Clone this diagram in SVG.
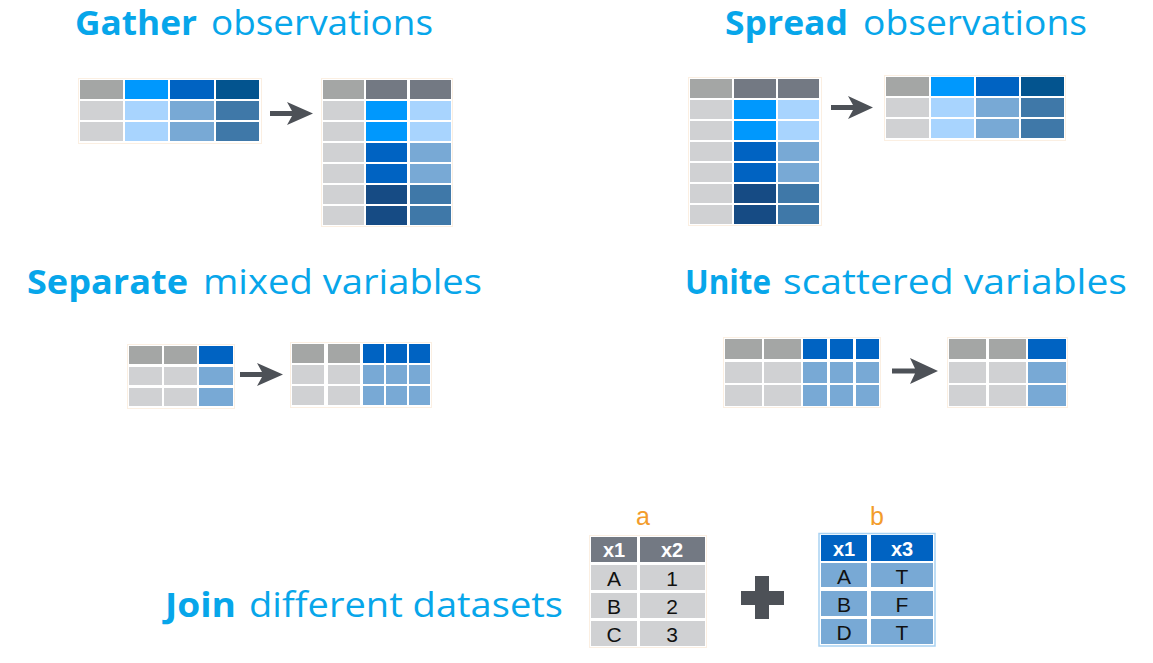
<svg xmlns="http://www.w3.org/2000/svg" width="1153" height="663" viewBox="0 0 1153 663">
<style>
.t{font-family:"Open Sans","DejaVu Sans",sans-serif;font-size:34px;fill:#07a6ea}
.tb{font-weight:bold}
.g1{fill:#a4a6a5}.g2{fill:#737983}.g3{fill:#d0d1d3}
.b1{fill:#0098fd}.b2{fill:#0063c2}.b3{fill:#03548f}.b4{fill:#164b84}
.l1{fill:#a8d4fe}.l2{fill:#78a9d5}.l3{fill:#3f78a8}
.fr{fill:none;stroke:#fbefe2;stroke-width:1}
.arr{fill:#4d5157}
.lab{font-family:"Liberation Sans",Arial,sans-serif;font-size:25px;fill:#f39c2b;text-anchor:middle}
.hd{font-family:"Liberation Sans",Arial,sans-serif;font-size:20px;font-weight:bold;fill:#fff;text-anchor:middle}
.cv{font-family:"Liberation Sans",Arial,sans-serif;font-size:21px;fill:#111;text-anchor:middle}
</style>
<rect width="1153" height="663" fill="#fff"/>

<g id="gather">
<text class="t tb" x="75" y="35" textLength="122" lengthAdjust="spacingAndGlyphs">Gather</text>
<text class="t" x="211" y="35" textLength="222" lengthAdjust="spacingAndGlyphs">observations</text>
<rect class="fr" x="78.5" y="78.5" width="183" height="65"/>
<rect class="g1" x="80" y="80" width="43" height="19"/><rect class="b1" x="125" y="80" width="43" height="19"/><rect class="b2" x="170" y="80" width="44" height="19"/><rect class="b3" x="216" y="80" width="43" height="19"/>
<rect class="g3" x="80" y="101" width="43" height="19"/><rect class="l1" x="125" y="101" width="43" height="19"/><rect class="l2" x="170" y="101" width="44" height="19"/><rect class="l3" x="216" y="101" width="43" height="19"/>
<rect class="g3" x="80" y="122" width="43" height="19"/><rect class="l1" x="125" y="122" width="43" height="19"/><rect class="l2" x="170" y="122" width="44" height="19"/><rect class="l3" x="216" y="122" width="43" height="19"/>
<path class="arr" d="M270,111 L292,111 L287,102 L313,113.5 L287,125 L292,116 L270,116 Z"/>
<rect class="fr" x="321.5" y="78.5" width="131" height="148"/>
<rect class="g1" x="323" y="80" width="41" height="19"/><rect class="g2" x="366" y="80" width="41" height="19"/><rect class="g2" x="410" y="80" width="41" height="19"/>
<rect class="g3" x="323" y="101" width="41" height="19"/><rect class="b1" x="366" y="101" width="41" height="19"/><rect class="l1" x="410" y="101" width="41" height="19"/>
<rect class="g3" x="323" y="122" width="41" height="19"/><rect class="b1" x="366" y="122" width="41" height="19"/><rect class="l1" x="410" y="122" width="41" height="19"/>
<rect class="g3" x="323" y="143" width="41" height="19"/><rect class="b2" x="366" y="143" width="41" height="19"/><rect class="l2" x="410" y="143" width="41" height="19"/>
<rect class="g3" x="323" y="164" width="41" height="19"/><rect class="b2" x="366" y="164" width="41" height="19"/><rect class="l2" x="410" y="164" width="41" height="19"/>
<rect class="g3" x="323" y="185" width="41" height="19"/><rect class="b4" x="366" y="185" width="41" height="19"/><rect class="l3" x="410" y="185" width="41" height="19"/>
<rect class="g3" x="323" y="206" width="41" height="19"/><rect class="b4" x="366" y="206" width="41" height="19"/><rect class="l3" x="410" y="206" width="41" height="19"/>
</g>

<g id="spread">
<text class="t tb" x="725" y="35" textLength="123" lengthAdjust="spacingAndGlyphs">Spread</text>
<text class="t" x="863" y="35" textLength="224" lengthAdjust="spacingAndGlyphs">observations</text>
<rect class="fr" x="688.5" y="77.5" width="133" height="148"/>
<rect class="g1" x="690" y="79" width="42" height="19"/><rect class="g2" x="734" y="79" width="42" height="19"/><rect class="g2" x="778" y="79" width="41" height="19"/>
<rect class="g3" x="690" y="100" width="42" height="19"/><rect class="b1" x="734" y="100" width="42" height="19"/><rect class="l1" x="778" y="100" width="41" height="19"/>
<rect class="g3" x="690" y="121" width="42" height="19"/><rect class="b1" x="734" y="121" width="42" height="19"/><rect class="l1" x="778" y="121" width="41" height="19"/>
<rect class="g3" x="690" y="142" width="42" height="19"/><rect class="b2" x="734" y="142" width="42" height="19"/><rect class="l2" x="778" y="142" width="41" height="19"/>
<rect class="g3" x="690" y="163" width="42" height="19"/><rect class="b2" x="734" y="163" width="42" height="19"/><rect class="l2" x="778" y="163" width="41" height="19"/>
<rect class="g3" x="690" y="184" width="42" height="19"/><rect class="b4" x="734" y="184" width="42" height="19"/><rect class="l3" x="778" y="184" width="41" height="19"/>
<rect class="g3" x="690" y="205" width="42" height="19"/><rect class="b4" x="734" y="205" width="42" height="19"/><rect class="l3" x="778" y="205" width="41" height="19"/>
<path class="arr" d="M831,105 L853,105 L848,96 L873,107.5 L848,119 L853,110 L831,110 Z"/>
<rect class="fr" x="884.5" y="75.5" width="181" height="65"/>
<rect class="g1" x="886" y="77" width="43" height="19"/><rect class="b1" x="931" y="77" width="43" height="19"/><rect class="b2" x="976" y="77" width="43" height="19"/><rect class="b3" x="1021" y="77" width="43" height="19"/>
<rect class="g3" x="886" y="98" width="43" height="19"/><rect class="l1" x="931" y="98" width="43" height="19"/><rect class="l2" x="976" y="98" width="43" height="19"/><rect class="l3" x="1021" y="98" width="43" height="19"/>
<rect class="g3" x="886" y="119" width="43" height="19"/><rect class="l1" x="931" y="119" width="43" height="19"/><rect class="l2" x="976" y="119" width="43" height="19"/><rect class="l3" x="1021" y="119" width="43" height="19"/>
</g>

<g id="separate">
<text class="t tb" x="27" y="294" textLength="161" lengthAdjust="spacingAndGlyphs">Separate</text>
<text class="t" x="203" y="294" textLength="279" lengthAdjust="spacingAndGlyphs">mixed variables</text>
<rect class="fr" x="127.5" y="344.5" width="107" height="64"/>
<rect class="g1" x="129" y="346" width="33" height="18"/><rect class="g1" x="164" y="346" width="33" height="18"/><rect class="b2" x="199" y="346" width="34" height="18"/>
<rect class="g3" x="129" y="367" width="33" height="18"/><rect class="g3" x="164" y="367" width="33" height="18"/><rect class="l2" x="199" y="367" width="34" height="18"/>
<rect class="g3" x="129" y="388" width="33" height="18"/><rect class="g3" x="164" y="388" width="33" height="18"/><rect class="l2" x="199" y="388" width="34" height="18"/>
<path class="arr" d="M240,372 L262,372 L257,363 L283,374.5 L257,386 L262,377 L240,377 Z"/>
<rect class="fr" x="290.5" y="342.5" width="141" height="65"/>
<rect class="g1" x="292" y="344" width="32" height="19"/><rect class="g1" x="328" y="344" width="32" height="19"/><rect class="b2" x="363" y="344" width="21" height="19"/><rect class="b2" x="386" y="344" width="21" height="19"/><rect class="b2" x="409" y="344" width="21" height="19"/>
<rect class="g3" x="292" y="365" width="32" height="19"/><rect class="g3" x="328" y="365" width="32" height="19"/><rect class="l2" x="363" y="365" width="21" height="19"/><rect class="l2" x="386" y="365" width="21" height="19"/><rect class="l2" x="409" y="365" width="21" height="19"/>
<rect class="g3" x="292" y="386" width="32" height="19"/><rect class="g3" x="328" y="386" width="32" height="19"/><rect class="l2" x="363" y="386" width="21" height="19"/><rect class="l2" x="386" y="386" width="21" height="19"/><rect class="l2" x="409" y="386" width="21" height="19"/>
</g>

<g id="unite">
<text class="t tb" x="685" y="294" textLength="86" lengthAdjust="spacingAndGlyphs">Unite</text>
<text class="t" x="783" y="294" textLength="344" lengthAdjust="spacingAndGlyphs">scattered variables</text>
<rect class="fr" x="723.5" y="337.5" width="157" height="70"/>
<rect class="g1" x="725" y="339" width="37" height="20"/><rect class="g1" x="764" y="339" width="37" height="20"/><rect class="b2" x="803" y="339" width="24" height="20"/><rect class="b2" x="830" y="339" width="23" height="20"/><rect class="b2" x="856" y="339" width="23" height="20"/>
<rect class="g3" x="725" y="362" width="37" height="21"/><rect class="g3" x="764" y="362" width="37" height="21"/><rect class="l2" x="803" y="362" width="24" height="21"/><rect class="l2" x="830" y="362" width="23" height="21"/><rect class="l2" x="856" y="362" width="23" height="21"/>
<rect class="g3" x="725" y="385" width="37" height="21"/><rect class="g3" x="764" y="385" width="37" height="21"/><rect class="l2" x="803" y="385" width="24" height="21"/><rect class="l2" x="830" y="385" width="23" height="21"/><rect class="l2" x="856" y="385" width="23" height="21"/>
<path class="arr" d="M892,368.5 L915,368.5 L910,358 L938,371 L910,384 L915,373.5 L892,373.5 Z"/>
<rect class="fr" x="947.5" y="337.5" width="120" height="70"/>
<rect class="g1" x="949" y="339" width="37" height="20"/><rect class="g1" x="989" y="339" width="37" height="20"/><rect class="b2" x="1028" y="339" width="38" height="20"/>
<rect class="g3" x="949" y="362" width="37" height="21"/><rect class="g3" x="989" y="362" width="37" height="21"/><rect class="l2" x="1028" y="362" width="38" height="21"/>
<rect class="g3" x="949" y="385" width="37" height="21"/><rect class="g3" x="989" y="385" width="37" height="21"/><rect class="l2" x="1028" y="385" width="38" height="21"/>
</g>

<g id="join">
<text class="t tb" x="165" y="617" textLength="71" lengthAdjust="spacingAndGlyphs">Join</text>
<text class="t" x="249" y="617" textLength="314" lengthAdjust="spacingAndGlyphs">different datasets</text>
</g>

<g id="table-a">
<text class="lab" x="643" y="525">a</text>
<rect class="fr" x="589.5" y="535.5" width="117" height="112"/>
<rect class="g2" x="591" y="537" width="46" height="25"/><rect class="g2" x="640" y="537" width="65" height="25"/>
<rect class="g3" x="591" y="565" width="46" height="25"/><rect class="g3" x="640" y="565" width="65" height="25"/>
<rect class="g3" x="591" y="593" width="46" height="25"/><rect class="g3" x="640" y="593" width="65" height="25"/>
<rect class="g3" x="591" y="621" width="46" height="25"/><rect class="g3" x="640" y="621" width="65" height="25"/>
<text class="hd" x="614" y="557">x1</text><text class="hd" x="672" y="557">x2</text>
<text class="cv" x="614" y="586">A</text><text class="cv" x="672" y="586">1</text>
<text class="cv" x="614" y="614">B</text><text class="cv" x="672" y="614">2</text>
<text class="cv" x="614" y="642">C</text><text class="cv" x="672" y="642">3</text>
</g>

<g id="plus">
<rect class="arr" x="741" y="591" width="43" height="14"/>
<rect class="arr" x="755" y="576" width="14" height="43"/>
</g>

<g id="table-b">
<text class="lab" x="877" y="525">b</text>
<rect x="819" y="533.5" width="116" height="112.5" fill="none" stroke="#a9d2f2" stroke-width="1.5"/>
<rect class="b2" x="821" y="535" width="46" height="26"/><rect class="b2" x="871" y="535" width="62" height="26"/>
<rect class="l2" x="821" y="563" width="46" height="24"/><rect class="l2" x="871" y="563" width="62" height="24"/>
<rect class="l2" x="821" y="591" width="46" height="25"/><rect class="l2" x="871" y="591" width="62" height="25"/>
<rect class="l2" x="821" y="619" width="46" height="25"/><rect class="l2" x="871" y="619" width="62" height="25"/>
<text class="hd" x="844" y="556">x1</text><text class="hd" x="902" y="556">x3</text>
<text class="cv" x="844" y="584">A</text><text class="cv" x="902" y="584">T</text>
<text class="cv" x="844" y="612">B</text><text class="cv" x="902" y="612">F</text>
<text class="cv" x="844" y="640">D</text><text class="cv" x="902" y="640">T</text>
</g>
</svg>
